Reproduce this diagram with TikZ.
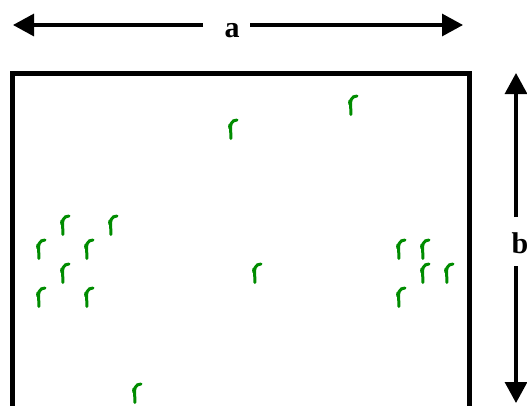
\documentclass[tikz,border=0pt]{standalone}
\usepackage{fontspec}
\setmainfont{Liberation Serif}
\usetikzlibrary{arrows.meta}
\definecolor{grassgreen}{RGB}{0,140,0}
\tikzset{
  frame/.style={line width=4.5pt},
  dimarrow/.style={line width=3.2pt,-{Triangle[length=21pt,width=22pt]}},
  dimlabel/.style={font=\fontsize{30}{30}\selectfont\bfseries, inner sep=0pt},
  tuft/.pic={
    \draw[grassgreen, line width=3pt, line cap=round]
      (-2.2,9.5) .. controls (-1.8,4) and (-3.2,-2) .. (-1.8,-5.5)
      .. controls (-0.8,-8) and (1.5,-9) .. (4,-9);
    \fill[grassgreen] (-3.3,-2.5) ellipse (1.6 and 3);
  }
}
\begin{document}
\begin{tikzpicture}[x=1pt,y=-1pt]
\useasboundingbox (0,0) rectangle (527,405);
\clip (0,0) rectangle (527,405);

% plot boundary (open at the bottom edge)
\draw[frame] (12.5,430) -- (12.5,73.5) -- (469.5,73.5) -- (469.5,430);

% dimension labels
\node[dimlabel] (a) at (232,31) {a};
\node[dimlabel] (b) at (520,243.5) {b};

% arrow tips
\coordinate (aL) at (13,25);
\coordinate (aR) at (463,25);
\coordinate (bT) at (516,73);
\coordinate (bB) at (516,403);

% dimension arrows
\draw[dimarrow, shorten <=29pt] (a.center |- aL) -- (aL);
\draw[dimarrow, shorten <=18pt] (a.center |- aR) -- (aR);
\draw[dimarrow, shorten <=26.5pt] (b.center -| bT) -- (bT);
\draw[dimarrow, shorten <=22.5pt] (b.center -| bT) -- (bB);

% plants
\foreach \x/\y in {353/105, 233/129,
                   65/225, 113/225,
                   41/249, 89/249, 401/249, 425/249,
                   65/273, 257/273, 425/273, 449/273,
                   41/297, 89/297, 401/297,
                   137/393}
  \pic at (\x,\y) {tuft};
\end{tikzpicture}
\end{document}
